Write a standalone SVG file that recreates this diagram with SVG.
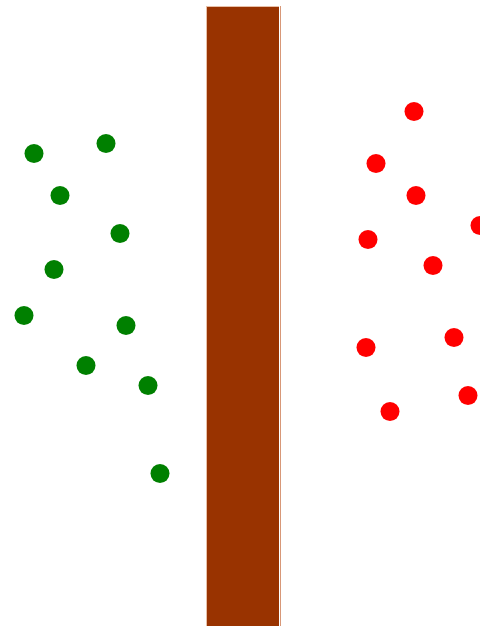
<svg xmlns="http://www.w3.org/2000/svg" width="480" height="626" viewBox="0 0 480 626">
<style>
.g{fill:#008000}
.r{fill:#ff0000}
</style>
<rect width="480" height="626" fill="#ffffff"/>
<g id="wall">
<rect x="206" y="6" width="73" height="620" fill="#e8c0a8"/>
<rect x="280" y="6" width="1" height="620" fill="#d89878"/>
<rect x="207" y="7" width="72" height="619" fill="#993300"/>
</g>
<g id="green">
<circle class="g" cx="34" cy="153.5" r="9.5"/>
<circle class="g" cx="106" cy="143.5" r="9.5"/>
<circle class="g" cx="60" cy="195.5" r="9.5"/>
<circle class="g" cx="120" cy="233.5" r="9.5"/>
<circle class="g" cx="54" cy="269.5" r="9.5"/>
<circle class="g" cx="24" cy="315.5" r="9.5"/>
<circle class="g" cx="126" cy="325.5" r="9.5"/>
<circle class="g" cx="86" cy="365.5" r="9.5"/>
<circle class="g" cx="148" cy="385.5" r="9.5"/>
<circle class="g" cx="160" cy="473.5" r="9.5"/>
</g>
<g id="red">
<circle class="r" cx="414" cy="111.5" r="9.5"/>
<circle class="r" cx="376" cy="163.5" r="9.5"/>
<circle class="r" cx="416" cy="195.5" r="9.5"/>
<circle class="r" cx="368" cy="239.5" r="9.5"/>
<circle class="r" cx="480" cy="225.5" r="9.5"/>
<circle class="r" cx="433" cy="265.5" r="9.5"/>
<circle class="r" cx="366" cy="347.5" r="9.5"/>
<circle class="r" cx="454" cy="337.5" r="9.5"/>
<circle class="r" cx="468" cy="395.5" r="9.5"/>
<circle class="r" cx="390" cy="411.5" r="9.5"/>
</g>
</svg>
